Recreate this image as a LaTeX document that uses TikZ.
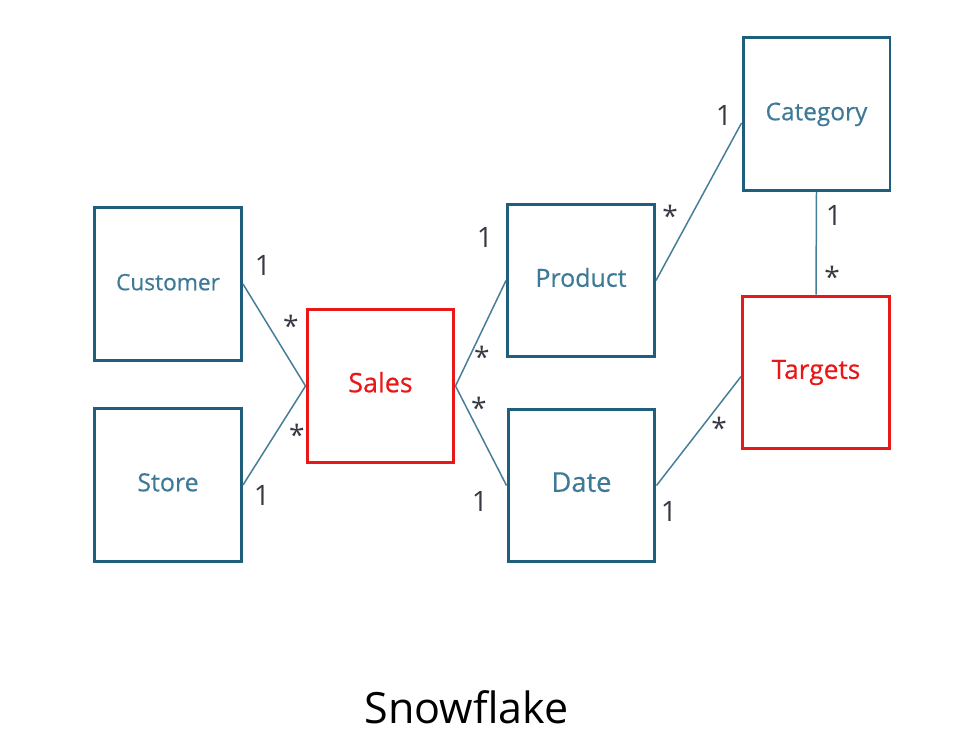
\documentclass[tikz,border=0pt]{standalone}
\usepackage{fontspec}
\setmainfont{Open Sans}
\newfontfamily\tblfont[FakeBold=0.5]{Open Sans}
\usetikzlibrary{calc}
\definecolor{tblblue}{RGB}{31,94,124}
\definecolor{tbltext}{RGB}{62,122,150}
\definecolor{linkblue}{RGB}{70,125,152}
\definecolor{factred}{RGB}{232,24,24}
\definecolor{multgray}{RGB}{55,58,66}

\begin{document}
\begin{tikzpicture}[
    x=0.02cm, y=-0.02cm,
    dimtable/.style={draw=tblblue, line width=1.7pt, minimum width=2.94cm,
                     minimum height=3.06cm, inner sep=0pt, text=tbltext,
                     text height=0.714em, text depth=0pt,
                     font=\tblfont\fontsize{#1}{#1}\selectfont},
    dimtable/.default=13,
    facttable/.style={dimtable=#1, draw=factred, text=factred},
    facttable/.default=13,
    link/.style={draw=linkblue, line width=0.85pt},
    mult/.style={inner sep=0pt, text=multgray, font=\fontsize{16}{18}\selectfont},
    manyend/.style={mult, yshift=-3pt}
  ]
  \useasboundingbox (0,0) rectangle (974,744);

  % Tables
  \node[dimtable=12.9] (customer) at (168, 284) {Customer};
  \node[dimtable=14.2] (store) at (168, 485) {Store};
  \node[facttable=15.3] (sales) at (380.5, 386) {Sales};
  \node[dimtable=14.2] (product) at (581, 280.5) {Product};
  \node[dimtable=15.5] (date) at (581.5, 485.5) {Date};
  \node[dimtable=13.9] (category) at (816.5, 114) {Category};
  \node[facttable=15] (targets) at (816, 372.5) {Targets};

  % Relationships
  \draw[link] (customer.east) -- (sales.west);
  \draw[link] (store.east) -- (sales.west);
  \draw[link] (sales.east) -- (product.west);
  \draw[link] (sales.east) -- (date.west);
  \draw[link] (product.east) -- ($(category.west)+(0,9)$);
  \draw[link] (category.south) -- (targets.north);
  \draw[link] (date.east) -- ($(targets.west)+(0,4)$);

  % Cardinalities
  \foreach \x/\y [count=\i] in {263/265, 262/495, 485/237, 480/501,
                                 724/115, 834/215, 669/511} {
    \node[mult] (one\i) at (\x, \y) {1};
  }
  \foreach \x/\y [count=\i] in {291/321, 297/430, 482/352, 479/403,
                                 670/211, 832/272, 719/423} {
    \node[manyend] (many\i) at (\x, \y) {*};
  }

  \node[font=\fontsize{24.5}{28}\selectfont, anchor=base] (title)
    at (466.5, 723) {Snowflake};
\end{tikzpicture}
\end{document}
